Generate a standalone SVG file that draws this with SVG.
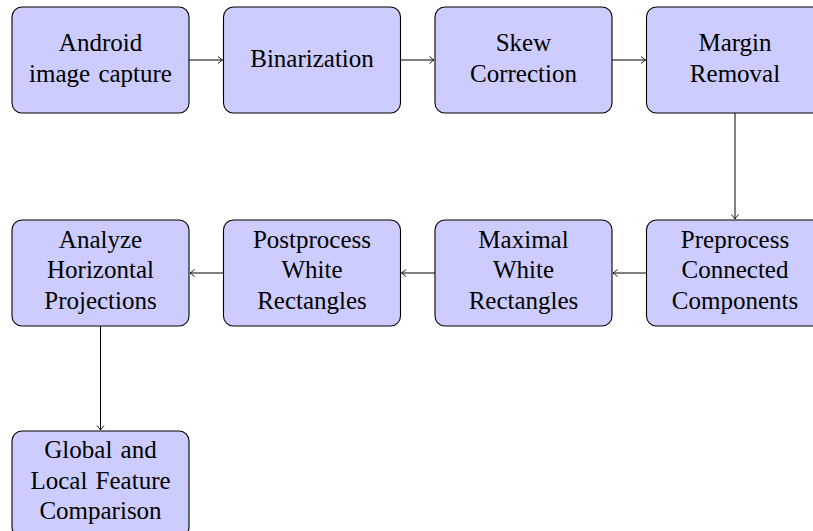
<svg xmlns="http://www.w3.org/2000/svg" width="813" height="531" viewBox="0 0 813 531">
<style>
.box{fill:#ccccff;stroke:#000;stroke-width:1.1}
.t{font-family:"Liberation Serif","Times New Roman",serif;font-size:25px;fill:#000;text-anchor:middle;word-spacing:2px}
.c{stroke:#000;stroke-width:1;fill:none}
</style>
<defs>
<marker id="ah" markerWidth="10" markerHeight="10" refX="0" refY="0" viewBox="-6 -5 8 10" orient="auto" markerUnits="userSpaceOnUse">
<path d="M-4.5,-3.5 Q-1,-0.6 0,0 Q-1,0.6 -4.5,3.5" fill="none" stroke="#000" stroke-width="0.9"/>
</marker>
</defs>
<rect width="813" height="531" fill="#fff"/>
<g id="connectors">
<line class="c" x1="189" y1="60" x2="222.5" y2="60" marker-end="url(#ah)"/>
<line class="c" x1="400.5" y1="60" x2="434" y2="60" marker-end="url(#ah)"/>
<line class="c" x1="612" y1="60" x2="645.5" y2="60" marker-end="url(#ah)"/>
<line class="c" x1="735" y1="113" x2="735" y2="219" marker-end="url(#ah)"/>
<line class="c" x1="646.5" y1="273" x2="613" y2="273" marker-end="url(#ah)"/>
<line class="c" x1="435" y1="273" x2="401.5" y2="273" marker-end="url(#ah)"/>
<line class="c" x1="223.5" y1="273" x2="190" y2="273" marker-end="url(#ah)"/>
<line class="c" x1="100.5" y1="326" x2="100.5" y2="430" marker-end="url(#ah)"/>
</g>
<g id="n1"><rect class="box" x="12" y="7" width="177" height="106" rx="10"/>
<text class="t" x="100.5" y="51">Android</text><text class="t" x="100.5" y="81.5">image capture</text></g>
<g id="n2"><rect class="box" x="223.5" y="7" width="177" height="106" rx="10"/>
<text class="t" x="312" y="67">Binarization</text></g>
<g id="n3"><rect class="box" x="435" y="7" width="177" height="106" rx="10"/>
<text class="t" x="523.5" y="51">Skew</text><text class="t" x="523.5" y="81.5">Correction</text></g>
<g id="n4"><rect class="box" x="646.5" y="7" width="177" height="106" rx="10"/>
<text class="t" x="735" y="51">Margin</text><text class="t" x="735" y="81.5">Removal</text></g>
<g id="n5"><rect class="box" x="646.5" y="220" width="177" height="106" rx="10"/>
<text class="t" x="735" y="247.5">Preprocess</text><text class="t" x="735" y="278">Connected</text><text class="t" x="735" y="308.5">Components</text></g>
<g id="n6"><rect class="box" x="435" y="220" width="177" height="106" rx="10"/>
<text class="t" x="523.5" y="247.5">Maximal</text><text class="t" x="523.5" y="278">White</text><text class="t" x="523.5" y="308.5">Rectangles</text></g>
<g id="n7"><rect class="box" x="223.5" y="220" width="177" height="106" rx="10"/>
<text class="t" x="312" y="247.5">Postprocess</text><text class="t" x="312" y="278">White</text><text class="t" x="312" y="308.5">Rectangles</text></g>
<g id="n8"><rect class="box" x="12" y="220" width="177" height="106" rx="10"/>
<text class="t" x="100.5" y="247.5">Analyze</text><text class="t" x="100.5" y="278">Horizontal</text><text class="t" x="100.5" y="308.5">Projections</text></g>
<g id="n9"><rect class="box" x="12" y="431" width="177" height="106" rx="10"/>
<text class="t" x="100.5" y="458">Global and</text><text class="t" x="100.5" y="488.5">Local Feature</text><text class="t" x="100.5" y="519">Comparison</text></g>
</svg>
